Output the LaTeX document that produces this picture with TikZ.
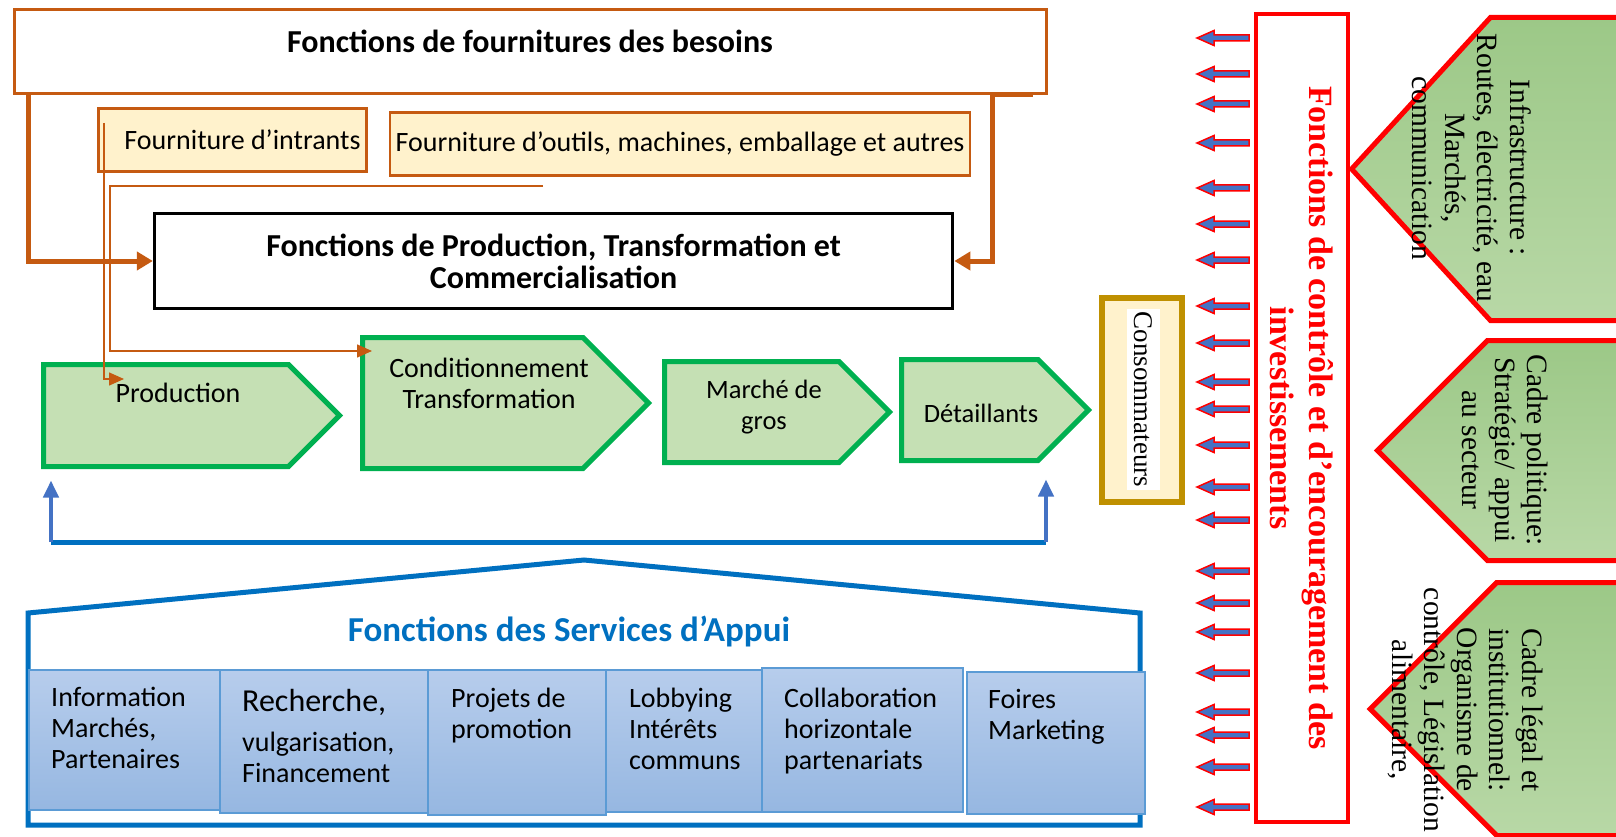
\documentclass[tikz,border=0pt]{standalone}
\usepackage{fontspec}
\setmainfont{Carlito}
\newfontfamily\serifcam{Liberation Serif}
\usepackage{xcolor}
\usepackage{tikz}
\usetikzlibrary{calc, arrows.meta, positioning, shapes.symbols}

\definecolor{supplyorange}{HTML}{C55A11}
\definecolor{supplyfill}{HTML}{FFF2CC}
\definecolor{chaingreen}{HTML}{00B050}
\definecolor{chainfill}{HTML}{C5E0B4}
\definecolor{consgold}{HTML}{BF9000}
\definecolor{appuiblue}{HTML}{0070C0}
\definecolor{arrowblue}{HTML}{4472C4}
\definecolor{svcborder}{HTML}{5B9BD5}
\definecolor{svctop}{HTML}{B7CDEC}
\definecolor{svcbottom}{HTML}{96B7E1}
\definecolor{paneltop}{HTML}{9CC887}
\definecolor{panelbottom}{HTML}{B8D8A6}

\begin{document}
\begin{tikzpicture}[x=1pt, y=-1pt, >=latex, font=\fontsize{28}{31}\selectfont]
	\tikzstyle{bigbold} = [font=\bfseries\fontsize{32}{32}\selectfont]
	\tikzstyle{supbox} = [draw=supplyorange, line width=3, rectangle, inner sep=0]
	\tikzstyle{inbox} = [draw=supplyorange, line width=2.5, fill=supplyfill, rectangle, inner sep=0]
	\tikzstyle{mainbox} = [draw=black, line width=3.5, rectangle, align=center, bigbold]
	\tikzstyle{stage} = [signal, signal to=east, signal pointer angle=90, draw=chaingreen, line width=5, fill=chainfill, inner sep=0]
	\tikzstyle{frame} = [signal, signal to=west, signal pointer angle=90, draw=red, line width=5, top color=paneltop, bottom color=panelbottom, inner sep=0]
	\tikzstyle{frametext} = [rotate=-90, align=center, font=\serifcam\fontsize{29.5}{32.5}\selectfont]
	\tikzstyle{ctrl} = [draw=red, line width=4, rectangle, rotate=-90, align=center, text=red, font=\serifcam\bfseries\fontsize{34}{39}\selectfont]
	\tikzstyle{ctrlarrow} = [draw=red, fill=arrowblue, line width=1.5, line join=miter]
	\tikzstyle{svc} = [draw=svcborder, line width=2, top color=svctop, bottom color=svcbottom, rectangle, inner sep=0]
	\tikzstyle{svctext} = [anchor=north west, align=left, inner sep=0]
	\tikzstyle{supply} = [draw=supplyorange, line width=5, -{Triangle[width=18, length=16]}]
	\tikzstyle{feed} = [draw=supplyorange, line width=1.5, -{Triangle[width=13, length=15]}]
	\tikzstyle{appuiarrow} = [draw=arrowblue, line width=4, -{Triangle[width=15, length=17]}]
	
	\useasboundingbox (0, 0) rectangle (1616, 837);
	\clip (0, 0) rectangle (1616, 837);
	
	% fournitures
	\node[supbox, minimum width=1032, minimum height=84, label={[bigbold, yshift=10.5]center:Fonctions de fournitures des besoins}] at (530, 51.5) (fourn) {};
	\node[inbox, minimum width=268, minimum height=63, text width=256, align=flush right] at (232.5, 140) (intr) {Fourniture d’intrants};
	\node[inbox, minimum width=580, minimum height=63] at (680, 144) (outil) {Fourniture d’outils, machines, emballage et autres};
	\node[mainbox, minimum width=798, minimum height=95] at (553.6, 261) (prodf) {Fonctions de Production, Transformation et\\Commercialisation};
	
	% chaine (centre du signal = centre du texte, donc decale)
	\node[stage, minimum width=296, minimum height=102] at (166, 415.5) (p1) {};
	\node[stage, minimum width=286, minimum height=131] at (472.75, 403) (p2) {};
	\node[stage, minimum width=225, minimum height=101] at (751.75, 412) (p3) {};
	\node[stage, minimum width=187, minimum height=101] at (969.75, 410) (p4) {};
	\node at (178, 393) (t1) {Production};
	\node[align=center] at (489, 383.5) (t2) {Conditionnement\\Transformation};
	\node[align=center, font=\fontsize{26.5}{31}\selectfont] at (764, 407.5) (t3) {Marché de\\gros};
	\node[font=\fontsize{26.5}{31}\selectfont] at (981, 413) (t4) {Détaillants};
	
	\node[draw=consgold, line width=6, fill=supplyfill, rectangle, minimum width=80, minimum height=204] at (1142, 400) (cons) {};
	\node[rotate=-90, fill=white, inner sep=0, minimum width=181, minimum height=33, font=\serifcam\fontsize{27}{30}\selectfont] at (1143.5, 399.5) (ctext) {Consommateurs};
	
	% fleches d'approvisionnement
	\draw[supply] ([xshift=16]fourn.south west) |- (prodf.west);
	\draw[supply] ([xshift=-15]fourn.south east) -- ++(-40, 0) |- (prodf.east);
	
	\coordinate (ia) at (104, 123);
	\coordinate (pa) at (124, 379);
	\coordinate (ob) at (543, 186);
	\coordinate (ca) at (372, 351);
	\draw[feed] (ia) |- (pa);
	\draw[feed] (ob) -| (110, 351) -- (ca);
	
	% services d'appui
	\coordinate (bl) at (51, 542);
	\coordinate (br) at (1046, 542);
	\draw[appuiblue, line width=5] (bl) -- (br);
	\draw[appuiarrow, shorten >=11.5] (bl) -- (bl |- p1.south);
	\draw[appuiarrow, shorten >=16.5] (br) -- (br |- p4.south);
	
	\draw[appuiblue, line width=5, line join=miter] (28, 825) -- (28, 613) -- (584, 560) -- (1140, 613) -- (1140, 825) -- cycle;
	\node[text=appuiblue, font=\bfseries\fontsize{35}{35}\selectfont] at (569, 632) (appui) {Fonctions des Services d’Appui};
	
	\node[svc, minimum width=191, minimum height=140] at (124.5, 740) (s1) {};
	\node[svc, minimum width=208, minimum height=143] at (324, 741.5) (s2) {};
	\node[svc, minimum width=178, minimum height=145] at (517, 742.5) (s3) {};
	\node[svc, minimum width=156, minimum height=142] at (684, 741) (s4) {};
	\node[svc, minimum width=201, minimum height=144] at (862.5, 740) (s5) {};
	\node[svc, minimum width=178, minimum height=142] at (1056, 743) (s6) {};
	\node[svctext] at (51, 687) (l1) {Information\\Marchés,\\Partenaires};
	\node[svctext] at (242, 689) (l2) {{\fontsize{32}{36}\selectfont Recherche,}\\[9pt]vulgarisation,\\Financement};
	\node[svctext] at (451, 688) (l3) {Projets de\\promotion};
	\node[svctext] at (629, 688) (l4) {Lobbying\\Intérêts\\communs};
	\node[svctext] at (784, 688) (l5) {Collaboration\\horizontale\\partenariats};
	\node[svctext] at (988, 689) (l6) {Foires\\Marketing};
	
	% controle et cadre
	\node[ctrl, minimum width=808, minimum height=92] at (1302, 418) (ctrl) {Fonctions de contrôle et d’encouragement des\\investissements};
	\foreach \y in {38, 74, 104, 143, 188, 224, 260, 306, 343, 382, 409, 445, 487, 520, 571, 603, 632, 673, 712, 735, 767, 807}
	\draw[ctrlarrow] (1249, \y-3) -- (1214, \y-3) -- (1214, \y-7.5) -- (1197, \y) -- (1214, \y+7.5) -- (1214, \y+3) -- (1249, \y+3) -- cycle;
	
	\node[frame, signal pointer angle=95, minimum width=308, minimum height=303] at (1575, 169) (r1) {};
	\node[frame, minimum width=282.5, minimum height=220] at (1573.75, 450.5) (r2) {};
	\node[frame, minimum width=289.5, minimum height=253] at (1578.25, 709) (r3) {};
	\node[frametext] at (1471.5, 168) (f1) {Infrastructure :\\Routes, électricité, eau\\Marchés,\\communication};
	\node[frametext] at (1505.5, 450) (f2) {Cadre politique:\\Stratégie/ appui\\au secteur};
	\node[frametext] at (1465, 710) (f3) {Cadre légal et\\institutionnel:\\Organisme de\\contrôle, Législation\\alimentaire,};
	
\end{tikzpicture}
\end{document}
